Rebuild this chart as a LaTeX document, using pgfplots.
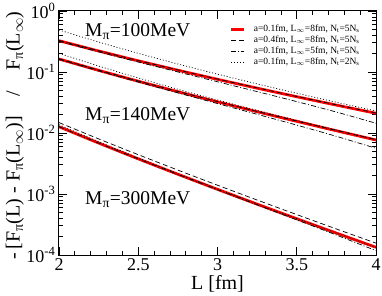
\documentclass[border=0pt]{standalone}
\usepackage{pgfplots}
\pgfplotsset{compat=1.18}
\usepackage{pgfplotstable}
\usepackage{fontspec}
\setmainfont{Liberation Serif}

\pgfplotstableread{
L     red      dash     dd       dot
2.00  0.3258   0.3291   0.3192   0.4887
2.25  0.2208   0.2230   0.2142   0.3102
2.50  0.1524   0.1539   0.1458   0.2024
2.75  0.10682  0.1079   0.10022  0.1352
3.00  0.07582  0.07658  0.06922  0.09212
3.25  0.05434  0.05488  0.04774  0.0638
3.50  0.03932  0.03971  0.03272  0.04486
3.75  0.02866  0.02895  0.02206  0.03193
4.00  0.02104  0.02125  0.01444  0.02299
}\mhundred

\pgfplotstableread{
L     red      dash     dd       dot
2.00  0.1633   0.1649   0.16124  0.2025
2.25  0.10634  0.1074   0.10428  0.12523
2.50  0.07056  0.07127  0.0685   0.07983
2.75  0.04753  0.04801  0.04547  0.05215
3.00  0.03241  0.03273  0.03035  0.03474
3.25  0.02233  0.02255  0.02027  0.02352
3.50  0.01553  0.01569  0.01347  0.01614
3.75  0.010877 0.010986 0.008817 0.011195
4.00  0.007674 0.007751 0.005614 0.00784
}\mfourty

\pgfplotstableread{
L     red        dash       dd         dot
2.00  0.01268    0.01484    0.012664   0.013694
2.25  0.006847   0.008011   0.006831   0.007213
2.50  0.00377    0.004411   0.003754   0.003905
2.75  0.0021065  0.002465   0.0020905  0.0021568
3.00  0.0011917  0.0013943  0.0011757  0.0012108
3.25  0.0006812  0.000797   0.0006652  0.0006885
3.50  0.000393   0.0004598  0.000377   0.0003958
3.75  0.00022838 0.0002672  0.00021238 0.00022948
4.00  0.00013366 0.0001564  0.00011766 0.00013409
}\mthree

\begin{document}
\begin{tikzpicture}
\useasboundingbox (-59pt,-41pt) rectangle (323pt,255pt);
\begin{axis}[
  at={(0pt,0pt)}, anchor=south west,
  scale only axis, width=317pt, height=244pt,
  xmin=2, xmax=4, ymin=1e-4, ymax=1,
  ymode=log,
  xtick={2,2.5,3,3.5,4}, xticklabels={2,2.5,3,3.5,4},
  minor x tick num=4,
  ytick={1e-4,1e-3,1e-2,1e-1,1},
  yticklabels={10\textsuperscript{-4},10\textsuperscript{-3},10\textsuperscript{-2},10\textsuperscript{-1},10\textsuperscript{0}},
  xtick pos=both, ytick pos=both,
  xticklabel pos=lower, yticklabel pos=left,
  tick align=inside,
  major tick length=8pt, minor tick length=4pt,
  every tick/.style={black, line width=0.8pt},
  axis line style={line width=1pt},
  ticklabel style={font=\fontsize{18}{18}\selectfont},
  xlabel={L [fm]},
  ylabel={-\,[F\textsubscript{π}(L) - F\textsubscript{π}(L\textsubscript{$\infty$})]\quad/\quad F\textsubscript{π}(L\textsubscript{$\infty$})},
  every axis x label/.style={at={(rel axis cs:0.5,-0.143)}, anchor=base, font=\fontsize{20}{20}\selectfont},
  every axis y label/.style={at={(rel axis cs:-0.139,0.49)}, rotate=90, anchor=center, font=\fontsize{20}{20}\selectfont},
  legend style={at={(rel axis cs:0.539,0.947)}, anchor=north west, draw=none, fill=none,
    font=\fontsize{9.5}{10.8}\selectfont, row sep=0pt, column sep=8pt, inner sep=0pt,
    nodes={inner sep=0pt, text height=7.5pt, text depth=3.3pt}},
  legend cell align=left,
  legend image code/.code={\draw[#1] (0pt,0pt) -- (13pt,0pt);},
]
\addplot[red, line width=2.8pt, smooth] table[x=L,y=red] {\mhundred};
\addlegendentry{a=0.1fm, L\textsubscript{$\infty$}=8fm, N\textsubscript{t}=5N\textsubscript{s}}
\addplot[black, line width=0.7pt, dash pattern=on 5pt off 3pt, smooth] table[x=L,y=dash] {\mhundred};
\addlegendentry{a=0.4fm, L\textsubscript{$\infty$}=8fm, N\textsubscript{t}=5N\textsubscript{s}}
\addplot[black, line width=0.7pt, dash pattern=on 5pt off 2pt on 1pt off 2pt, smooth] table[x=L,y=dd] {\mhundred};
\addlegendentry{a=0.1fm, L\textsubscript{$\infty$}=5fm, N\textsubscript{t}=5N\textsubscript{s}}
\addplot[black, line width=0.7pt, dash pattern=on 1pt off 2pt, smooth] table[x=L,y=dot] {\mhundred};
\addlegendentry{a=0.1fm, L\textsubscript{$\infty$}=8fm, N\textsubscript{t}=2N\textsubscript{s}}

\addplot[red, line width=2.8pt, smooth, forget plot] table[x=L,y=red] {\mfourty};
\addplot[red, line width=2.8pt, smooth, forget plot] table[x=L,y=red] {\mthree};

\addplot[black, line width=0.7pt, dash pattern=on 5pt off 3pt, smooth, forget plot] table[x=L,y=dash] {\mfourty};
\addplot[black, line width=0.7pt, dash pattern=on 5pt off 2pt on 1pt off 2pt, smooth, forget plot] table[x=L,y=dd] {\mfourty};
\addplot[black, line width=0.7pt, dash pattern=on 1pt off 2pt, smooth, forget plot] table[x=L,y=dot] {\mfourty};

\addplot[black, line width=0.7pt, dash pattern=on 5pt off 3pt, smooth, forget plot] table[x=L,y=dash] {\mthree};
\addplot[black, line width=0.7pt, dash pattern=on 5pt off 2pt on 1pt off 2pt, smooth, forget plot] table[x=L,y=dd] {\mthree};
\addplot[black, line width=0.7pt, dash pattern=on 1pt off 2pt, smooth, forget plot] table[x=L,y=dot] {\mthree};

\node[anchor=base west, font=\fontsize{19.5}{19.5}\selectfont, inner sep=0pt] at (axis cs:2.164,0.389) {M\textsubscript{π}=100MeV};
\node[anchor=base west, font=\fontsize{19.5}{19.5}\selectfont, inner sep=0pt] at (axis cs:2.164,0.01633) {M\textsubscript{π}=140MeV};
\node[anchor=base west, font=\fontsize{19.5}{19.5}\selectfont, inner sep=0pt] at (axis cs:2.164,0.000685) {M\textsubscript{π}=300MeV};
\end{axis}
\end{tikzpicture}
\end{document}
